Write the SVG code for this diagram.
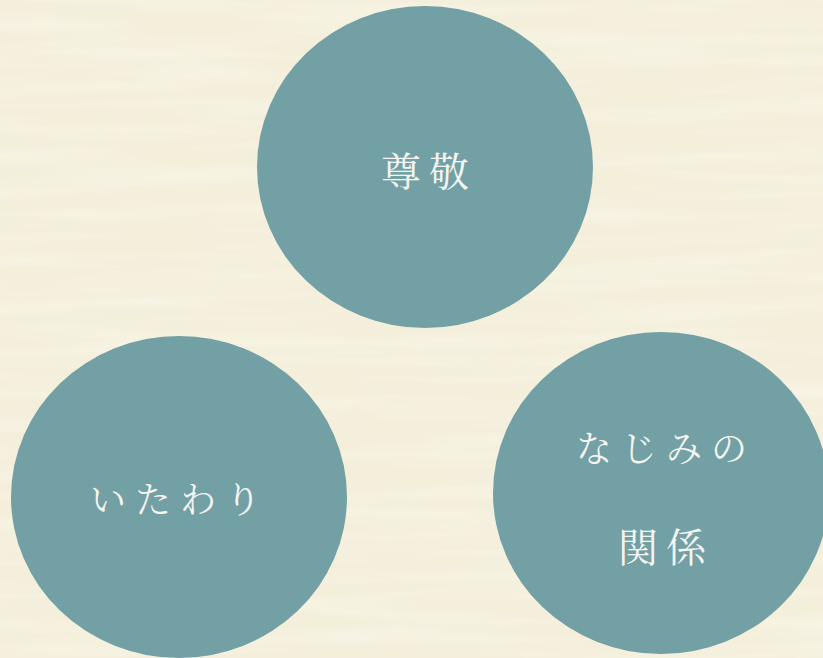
<svg xmlns="http://www.w3.org/2000/svg" width="823" height="658" viewBox="0 0 823 658">
  <defs>
    <filter id="paper" x="0" y="0" width="100%" height="100%">
      <feTurbulence type="fractalNoise" baseFrequency="0.004 0.06" numOctaves="3" seed="7" result="n"/>
      <feColorMatrix in="n" type="matrix" values="0 0 0 0 0.97  0 0 0 0 0.96  0 0 0 0 0.88  0 0 0 0.9 -0.35" result="c"/>
      <feComposite in="c" in2="SourceGraphic" operator="over"/>
    </filter>
    <style>
      .node { fill: #72a0a5; }
      .label { fill: #f4f4f0; font-family: "Noto Serif CJK JP", "Noto Sans CJK JP", sans-serif; font-weight: 400; font-size: 40px; text-anchor: middle; dominant-baseline: central; letter-spacing: 8px; }
    </style>
  </defs>
  <rect x="0" y="0" width="823" height="658" fill="#f4efdb" filter="url(#paper)"/>
  <g id="node-sonkei">
    <ellipse class="node" cx="425" cy="167" rx="168" ry="161"/>
    <text class="label" x="429" y="168">尊敬</text>
  </g>
  <g id="node-itawari">
    <ellipse class="node" cx="179" cy="497" rx="168" ry="161"/>
    <text class="label" x="180" y="497" style="font-size:36px;letter-spacing:9px">いたわり</text>
  </g>
  <g id="node-najimi">
    <ellipse class="node" cx="661" cy="493" rx="168" ry="161"/>
    <text class="label" x="666" y="446" style="font-size:36px;letter-spacing:9px">なじみの</text>
    <text class="label" x="666" y="544">関係</text>
  </g>
  <g id="connectors"/>
</svg>
